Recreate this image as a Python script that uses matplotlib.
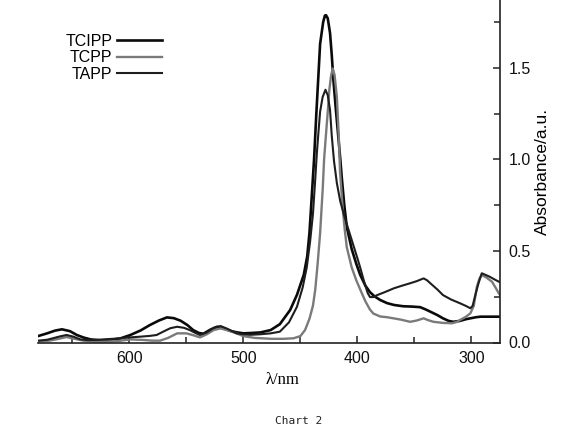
import matplotlib
matplotlib.use("Agg")
import matplotlib.pyplot as plt
from matplotlib.ticker import MultipleLocator

plt.rcParams['font.family'] = ['Liberation Sans', 'DejaVu Sans']

# ---- data (wavelength nm, absorbance a.u.) ----
tcipp_wl = [680, 672, 665, 659, 652, 646, 640, 634, 625, 617, 608, 599, 590, 582, 574, 567,
            561, 555, 549, 544, 539, 535, 529, 523, 517, 512, 506, 500, 493, 485, 476, 468,
            459, 453, 447, 444, 442, 440, 438, 436, 434, 432.7, 430, 428.5, 427.5, 426, 424,
            422.5, 421, 419, 416.7, 415, 413.7, 411.5, 409.3, 405, 401, 397.6, 393, 389, 385,
            380, 374, 368, 360, 352, 345, 340, 336, 330, 325, 320, 316, 310, 305, 301, 296,
            292, 287, 281, 275]
tcipp_abs = [0.035, 0.05, 0.065, 0.072, 0.062, 0.041, 0.027, 0.017, 0.012, 0.014, 0.022, 0.041,
             0.066, 0.095, 0.12, 0.137, 0.133, 0.119, 0.095, 0.068, 0.052, 0.048, 0.07, 0.086,
             0.078, 0.064, 0.056, 0.05, 0.052, 0.055, 0.068, 0.1, 0.177, 0.26, 0.37, 0.47, 0.6,
             0.8, 1.0, 1.25, 1.48, 1.63, 1.75, 1.785, 1.787, 1.77, 1.69, 1.57, 1.43, 1.28, 1.12,
             1.0, 0.9, 0.75, 0.63, 0.51, 0.43, 0.37, 0.31, 0.275, 0.252, 0.232, 0.215, 0.205, 0.198,
             0.196, 0.193, 0.18, 0.168, 0.15, 0.132, 0.118, 0.113, 0.118, 0.127, 0.132, 0.138,
             0.141, 0.141, 0.141, 0.141]

tcpp_wl = [680, 670, 662, 655, 648, 640, 630, 620, 610, 599, 588, 580, 573, 566, 558, 550, 544,
           538, 532, 526, 520, 513, 506, 500, 490, 475, 465, 456, 450, 445.9, 442, 439, 437, 435,
           432.7, 430.4, 429.2, 427.5, 426, 424.6, 423, 421.6, 420, 418, 416.3, 415.2, 413, 411,
           409.3, 405, 401, 397.6, 393, 389, 386, 380, 374, 368.4, 362, 353.8, 348, 342, 338,
           333.3, 325, 317, 313, 310, 305, 301, 298, 295.3, 293, 290.9, 287, 282, 278, 276, 275]
tcpp_abs = [0.005, 0.01, 0.02, 0.03, 0.02, 0.01, 0.005, 0.005, 0.008, 0.017, 0.014, 0.01, 0.01,
            0.025, 0.05, 0.05, 0.04, 0.028, 0.045, 0.068, 0.077, 0.065, 0.05, 0.035, 0.025, 0.02,
            0.02, 0.023, 0.035, 0.068, 0.13, 0.2, 0.286, 0.42, 0.596, 0.84, 1.0, 1.14, 1.26,
            1.38, 1.46, 1.496, 1.46, 1.34, 1.12, 0.93, 0.74, 0.61, 0.52, 0.41, 0.34, 0.29, 0.225,
            0.18, 0.158, 0.142, 0.138, 0.132, 0.125, 0.113, 0.12, 0.132, 0.122, 0.113, 0.107,
            0.105, 0.112, 0.123, 0.14, 0.159, 0.2, 0.304, 0.35, 0.368, 0.355, 0.332, 0.29, 0.268,
            0.26]

tapp_wl = [680, 672, 667, 661, 655, 649, 643, 636, 629, 620, 610, 599, 590, 582, 576, 570, 564,
           558, 552, 547, 542, 538, 532, 526, 520, 514, 506, 500, 494, 485, 476, 468, 460, 453,
           448, 444.4, 441.5, 439, 437, 435.6, 434, 432.7, 430.5, 428, 426, 424, 422.5, 420.5,
           418, 415, 411, 407, 402, 400, 397.6, 394, 391, 389, 386, 383, 376, 368, 361, 354,
           348, 342, 339, 336, 330, 325, 318, 310, 305, 301, 299, 297, 294, 291, 288, 284, 280,
           276, 275]
tapp_abs = [0.01, 0.015, 0.023, 0.033, 0.041, 0.032, 0.017, 0.013, 0.014, 0.018, 0.022, 0.028,
            0.032, 0.036, 0.041, 0.06, 0.078, 0.086, 0.08, 0.068, 0.052, 0.041, 0.055, 0.08, 0.09,
            0.075, 0.05, 0.045, 0.042, 0.045, 0.05, 0.059, 0.11, 0.195, 0.3, 0.41, 0.55, 0.7,
            0.887, 1.03, 1.16, 1.26, 1.34, 1.38, 1.35, 1.27, 1.13, 0.99, 0.87, 0.77, 0.68, 0.6,
            0.5, 0.46, 0.41, 0.33, 0.27, 0.248, 0.248, 0.258, 0.275, 0.296, 0.31, 0.323, 0.335,
            0.35, 0.34, 0.323, 0.29, 0.259, 0.235, 0.214, 0.2, 0.187, 0.2, 0.25, 0.32, 0.378,
            0.37, 0.359, 0.345, 0.332, 0.33]

series_names = ["TCIPP", "TCPP", "TAPP"]
x_ticks = [300, 400, 500, 600]
y_ticks = [0.0, 0.5, 1.0, 1.5]

fig = plt.figure(figsize=(5.70, 4.43), dpi=100)
ax = fig.add_axes([38/570, 1 - 342.5/443, 462/570, 342.5/443])

ax.plot(tcipp_wl, tcipp_abs, color="#0a0a0a", lw=1.9, label=series_names[0])
ax.plot(tcpp_wl, tcpp_abs, color="#7a7a7a", lw=1.7, label=series_names[1])
ax.plot(tapp_wl, tapp_abs, color="#1e1e1e", lw=1.5, label=series_names[2])

ax.set_xlim(680, 275)
ax.set_ylim(0, 1.87)

ax.spines['left'].set_visible(False)
ax.spines['top'].set_visible(False)
for s in ('right', 'bottom'):
    ax.spines[s].set_linewidth(1.2)
    ax.spines[s].set_color("#222222")

ax.yaxis.tick_right()
ax.yaxis.set_label_position('right')
ax.set_xticks(x_ticks)
ax.set_xticklabels([str(v) for v in x_ticks])
ax.set_yticks(y_ticks)
ax.set_yticklabels([f"{v:.1f}" for v in y_ticks])
ax.xaxis.set_minor_locator(MultipleLocator(50))
ax.yaxis.set_minor_locator(MultipleLocator(0.25))
ax.tick_params(axis='both', which='both', direction='in', colors="#222222", labelcolor="#111111",
               labelsize=11.5, width=1.1)
ax.tick_params(axis='both', which='major', length=5, pad=6)
ax.tick_params(axis='both', which='minor', length=4)
ax.tick_params(axis='y', which='both', left=False, right=True)
ax.tick_params(axis='x', which='both', top=False, bottom=True)

ax.set_ylabel("Absorbance/a.u.", fontsize=12.5, rotation=90, labelpad=3)

fig.text(283/570, 1 - 380/443, "λ/nm", ha='center', va='center', fontsize=12,
         family=['Liberation Serif', 'DejaVu Serif'])
fig.text(299/570, 1 - 421/443, "Chart 2", ha='center', va='center', fontsize=8,
         family=['DejaVu Sans Mono'], color="#222222")

leg = ax.legend(loc='upper left', bbox_to_anchor=(0.045, 0.92), frameon=False, markerfirst=False,
                fontsize=11.5, handlelength=2.8, handletextpad=0.3, labelspacing=0.1,
                borderaxespad=0)

fig.savefig("out.png", dpi=100)
